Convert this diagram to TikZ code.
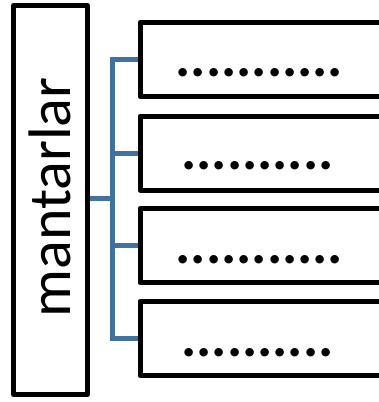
\documentclass[tikz,border=0pt]{standalone}
\usepackage{fontspec}
\setmainfont{Carlito}
\definecolor{connblue}{RGB}{65,113,156}
\begin{document}
\begin{tikzpicture}[x=1pt,y=-1pt,
  bigbox/.style={draw=black,line width=5pt,line join=round,minimum width=74pt,minimum height=389pt,inner sep=0pt},
  itembox/.style={draw=black,line width=5pt,line join=round,minimum width=243.5pt,minimum height=74pt,inner sep=0pt},
  conn/.style={draw=connblue,line width=5pt},
  dots/.style={inner sep=0pt,anchor=base,font=\fontsize{57}{68}\selectfont\bfseries},
  title/.style={inner sep=0pt,anchor=base,rotate=90,font=\fontsize{60}{72}\selectfont}]
\useasboundingbox (0,0) rectangle (379,402);
\fill[white] (0,0) rectangle (379,402);
% left box
\node[bigbox] (main) at (50.5,200) {};
\node[title] (lbl) at (70,197.5) {mantarlar};
% right boxes
\node[itembox,anchor=west] (b1) at (137.5,59.5) {};
\node[itembox,anchor=west] (b2) at (137.5,153) {};
\node[itembox,anchor=west] (b3) at (137.5,245.5) {};
\node[itembox,anchor=west] (b4) at (137.5,338.5) {};
\node[dots] (d1) at (259.5,76.5) {...........};
\node[dots] (d2) at (257.5,169.5) {..........};
\node[dots] (d3) at (259.5,263.5) {...........};
\node[dots] (d4) at (257.5,356.5) {..........};
% connectors
\coordinate (hub) at (112,198.5);
\draw[conn] (main.east |- hub) -- (hub);
\draw[conn] (b1.west) -| (hub) |- (b4.west);
\draw[conn] (hub |- b2.west) -- (b2.west);
\draw[conn] (hub |- b3.west) -- (b3.west);
\end{tikzpicture}
\end{document}
